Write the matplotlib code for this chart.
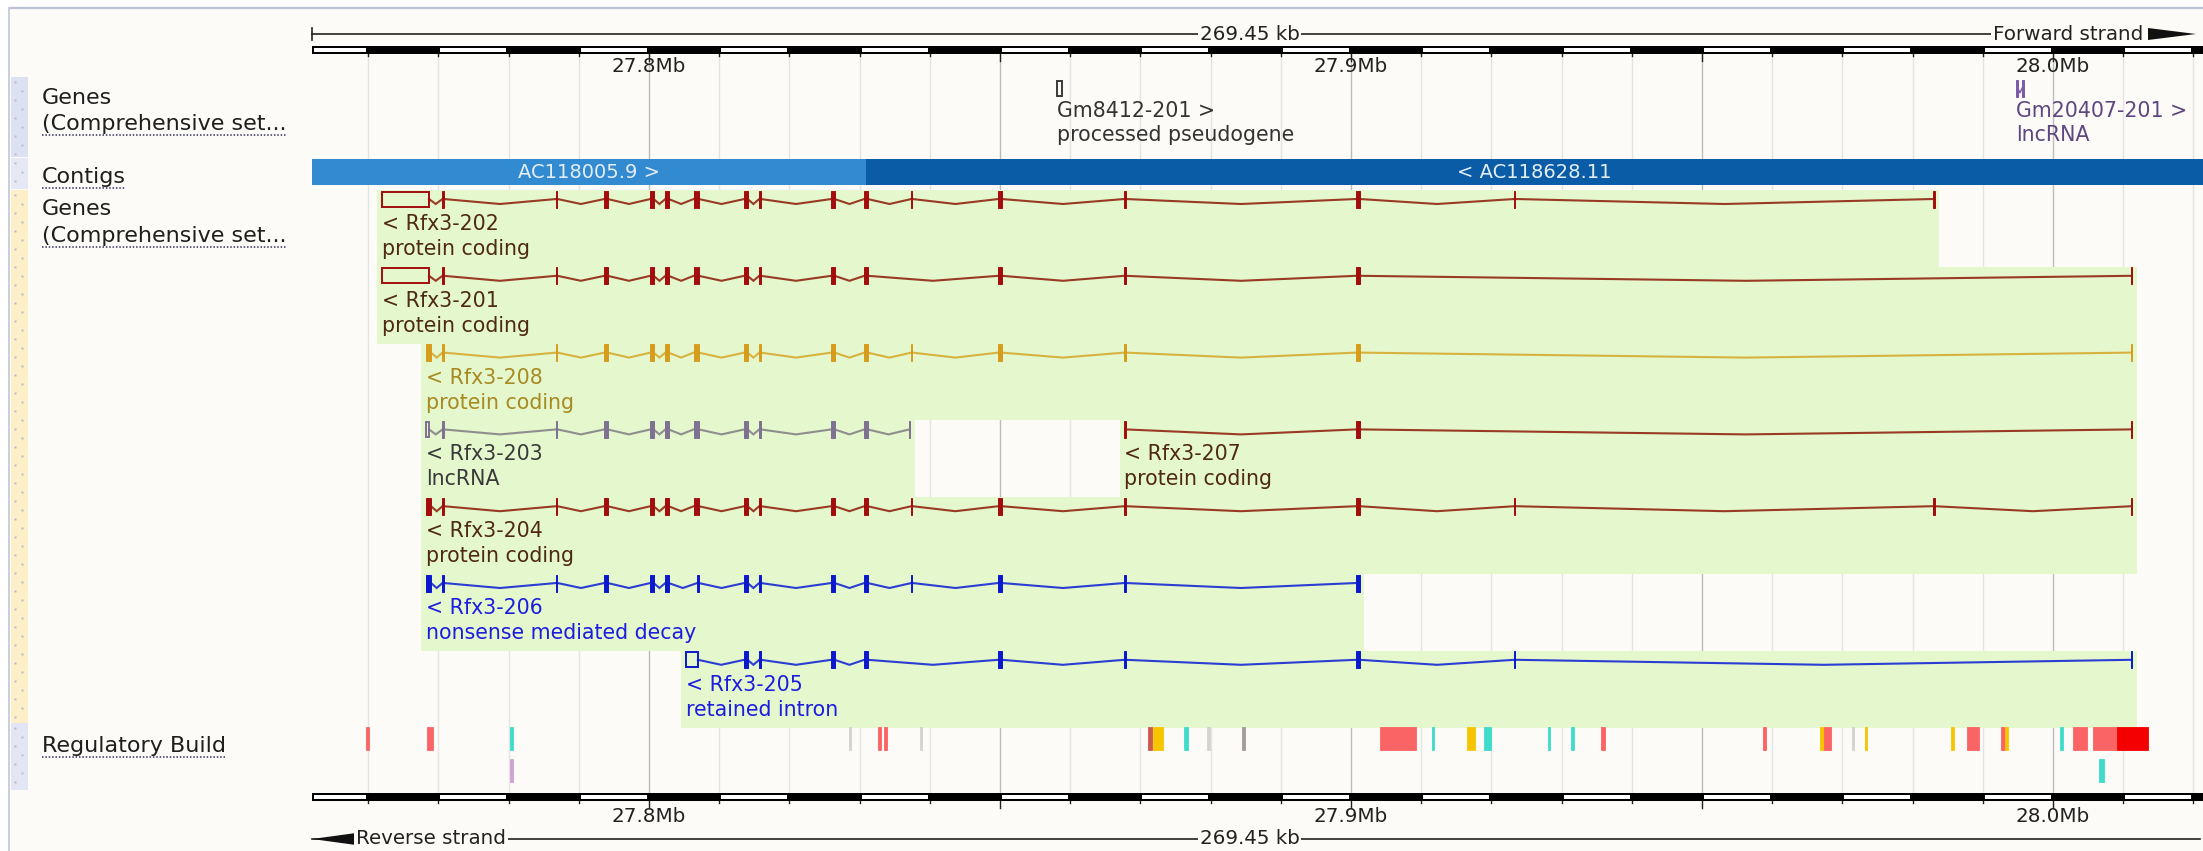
import matplotlib
matplotlib.use('Agg')
import matplotlib.pyplot as plt
from matplotlib.patches import Rectangle, Polygon
import numpy as np

plt.rcParams['font.family'] = ['DejaVu Sans']

W, H = 2203, 851

# ---------------- data ----------------
view_start = 27.7520
view_end = 28.02137
scale_label = '269.45 kb'
tick_pos = [27.8, 27.9, 28.0]
tick_labels = ['27.8Mb', '27.9Mb', '28.0Mb']

contig_names = ['AC118005.9 >', '< AC118628.11']
contig_start = [27.70, 27.8309]
contig_end = [27.8309, 28.10]

top_gene_names = ['Gm8412-201 >', 'Gm20407-201 >']
top_gene_types = ['processed pseudogene', 'lncRNA']
top_gene_exons = [[(27.85845, 0.7, 'o')],
                  [(27.99487, 0.25, 'f'), (27.99573, 0.25, 'f')]]

# exons: (centre Mb, width kb, 'f' filled / 'o' outline)
rfx3_202 = [(27.76532, 6.69, 'o'), (27.77066, 0.15, 'f'), (27.78689, 0.15, 'f'),
            (27.79387, 0.45, 'f'), (27.80043, 0.45, 'f'), (27.80256, 0.45, 'f'),
            (27.80655, 0.35, 'f'), (27.80698, 0.2, 'f'), (27.81382, 0.45, 'f'),
            (27.81581, 0.2, 'f'), (27.82621, 0.45, 'f'), (27.83091, 0.45, 'f'),
            (27.83746, 0.15, 'f'), (27.85000, 0.45, 'f'), (27.86781, 0.15, 'f'),
            (27.90100, 0.45, 'f'), (27.92336, 0.15, 'f'), (27.98305, 0.15, 'f')]
rfx3_201 = [(27.76532, 6.69, 'o'), (27.77066, 0.15, 'f'), (27.78689, 0.15, 'f'),
            (27.79387, 0.45, 'f'), (27.80043, 0.45, 'f'), (27.80256, 0.45, 'f'),
            (27.80655, 0.35, 'f'), (27.80698, 0.2, 'f'), (27.81382, 0.45, 'f'),
            (27.81581, 0.2, 'f'), (27.82621, 0.45, 'f'), (27.83091, 0.45, 'f'),
            (27.85000, 0.45, 'f'), (27.86781, 0.15, 'f'), (27.90100, 0.45, 'f'),
            (28.01125, 0.15, 'f')]
rfx3_208 = [(27.76859, 0.72, 'f'), (27.77066, 0.15, 'f'), (27.78689, 0.15, 'f'),
            (27.79387, 0.45, 'f'), (27.80043, 0.45, 'f'), (27.80256, 0.45, 'f'),
            (27.80655, 0.35, 'f'), (27.80698, 0.2, 'f'), (27.81382, 0.45, 'f'),
            (27.81581, 0.2, 'f'), (27.82621, 0.45, 'f'), (27.83091, 0.45, 'f'),
            (27.83746, 0.15, 'f'), (27.85000, 0.45, 'f'), (27.86781, 0.15, 'f'),
            (27.90100, 0.45, 'f'), (28.01125, 0.15, 'f')]
rfx3_203 = [(27.76845, 0.45, 'o'), (27.77066, 0.15, 'f'), (27.78689, 0.15, 'f'),
            (27.79387, 0.45, 'f'), (27.80043, 0.45, 'f'), (27.80256, 0.45, 'f'),
            (27.80655, 0.35, 'f'), (27.80698, 0.2, 'f'), (27.81382, 0.45, 'f'),
            (27.81581, 0.2, 'f'), (27.82621, 0.45, 'f'), (27.83091, 0.45, 'f'),
            (27.83718, 0.15, 'f')]
rfx3_207 = [(27.86781, 0.15, 'f'), (27.90100, 0.45, 'f'), (28.01125, 0.15, 'f')]
rfx3_204 = [(27.76859, 0.72, 'f'), (27.77066, 0.15, 'f'), (27.78689, 0.15, 'f'),
            (27.79387, 0.45, 'f'), (27.80043, 0.45, 'f'), (27.80256, 0.45, 'f'),
            (27.80655, 0.35, 'f'), (27.80698, 0.2, 'f'), (27.81382, 0.45, 'f'),
            (27.81581, 0.2, 'f'), (27.82621, 0.45, 'f'), (27.83091, 0.45, 'f'),
            (27.83746, 0.15, 'f'), (27.85000, 0.45, 'f'), (27.86781, 0.15, 'f'),
            (27.90100, 0.45, 'f'), (27.92336, 0.15, 'f'), (27.98305, 0.15, 'f'),
            (28.01125, 0.15, 'f')]
rfx3_206 = [(27.76859, 0.72, 'f'), (27.77066, 0.15, 'f'), (27.78689, 0.15, 'f'),
            (27.79387, 0.45, 'f'), (27.80043, 0.45, 'f'), (27.80256, 0.45, 'f'),
            (27.80698, 0.2, 'f'), (27.81382, 0.45, 'f'), (27.81581, 0.2, 'f'),
            (27.82621, 0.45, 'f'), (27.83091, 0.45, 'f'), (27.83746, 0.15, 'f'),
            (27.85000, 0.45, 'f'), (27.86781, 0.15, 'f'), (27.90100, 0.45, 'f')]
rfx3_205 = [(27.80612, 1.71, 'o'), (27.81382, 0.45, 'f'), (27.81581, 0.2, 'f'),
            (27.82621, 0.45, 'f'), (27.83091, 0.45, 'f'), (27.85000, 0.45, 'f'),
            (27.86781, 0.15, 'f'), (27.90100, 0.45, 'f'), (27.92336, 0.15, 'f'),
            (28.01125, 0.15, 'f')]

tx_names = ['< Rfx3-202', '< Rfx3-201', '< Rfx3-208', '< Rfx3-203',
            '< Rfx3-207', '< Rfx3-204', '< Rfx3-206', '< Rfx3-205']
tx_types = ['protein coding', 'protein coding', 'protein coding', 'lncRNA',
            'protein coding', 'protein coding', 'nonsense mediated decay', 'retained intron']
tx_rows = [0, 1, 2, 3, 3, 4, 5, 6]
tx_class = ['pc', 'pc', 'gold', 'lnc', 'pc', 'pc', 'nmd', 'nmd']
tx_exons = [rfx3_202, rfx3_201, rfx3_208, rfx3_203, rfx3_207, rfx3_204, rfx3_206, rfx3_205]

# regulatory build features
reg_start = [27.75969, 27.76838, 27.78020, 27.78020, 27.82849, 27.83262, 27.83348,
             27.83860, 27.87108, 27.87179, 27.87621, 27.87949, 27.88447, 27.90413,
             27.91154, 27.91652, 27.91895, 27.92806, 27.93134, 27.93561, 27.95869,
             27.96681, 27.96738, 27.97137, 27.97322, 27.98547, 27.98775, 27.99259,
             27.99316, 28.00100, 28.00285, 28.00570, 28.00912, 28.00655]
reg_end = [27.76011, 27.76923, 27.78063, 27.78063, 27.82877, 27.83305, 27.83390,
           27.83889, 27.87165, 27.87322, 27.87678, 27.87991, 27.88490, 27.90926,
           27.91182, 27.91766, 27.91994, 27.92835, 27.93177, 27.93618, 27.95912,
           27.96738, 27.96838, 27.97165, 27.97350, 27.98590, 27.98946, 27.99316,
           27.99359, 28.00142, 28.00484, 28.00912, 28.01353, 28.00726]
reg_type = ['flank', 'flank', 'ctcf', 'tf', 'open', 'flank', 'flank',
            'open', 'mixed', 'enhancer', 'ctcf', 'open', 'grey', 'flank',
            'ctcf', 'enhancer', 'ctcf', 'ctcf', 'ctcf', 'flank', 'flank',
            'enhancer', 'flank', 'open', 'enhancer', 'enhancer', 'flank', 'flank',
            'enhancer', 'ctcf', 'flank', 'flank', 'promoter', 'ctcf']
reg_row = [0, 0, 0, 1, 0, 0, 0, 0, 0, 0, 0, 0, 0, 0, 0, 0, 0, 0, 0, 0, 0,
           0, 0, 0, 0, 0, 0, 0, 0, 0, 0, 0, 0, 1]

# ---------------- styles ----------------
BG = '#fcfbf7'
GREEN = '#e5f7cd'
cls_exon = {'pc': '#a30d0d', 'gold': '#d79c1c', 'lnc': '#7e7191', 'nmd': '#0c18cc'}
cls_intron = {'pc': '#983a24', 'gold': '#d8b23e', 'lnc': '#8e8e8e', 'nmd': '#2b3dd2'}
cls_label = {'pc': '#4e2a12', 'gold': '#a88a22', 'lnc': '#3a3a3a', 'nmd': '#1d1de0'}
reg_colors = {'promoter': '#f40000', 'flank': '#fb6464', 'enhancer': '#f6c500',
              'ctcf': '#3fdccc', 'tf': '#d3a0d3', 'open': '#d3d3d3',
              'grey': '#a39c9c', 'mixed': '#c95b48'}

FS = 14.8      # track labels
FS_LEFT = 16.0
FS_TICK = 14.3
row_y0, row_pitch = 199.0, 76.8
exon_h, dip = 17.0, 5.0

fig = plt.figure(figsize=(W / 100, H / 100), dpi=100)
fig.patch.set_facecolor('white')

# background axes in pixel coordinates
axb = fig.add_axes([0, 0, 1, 1])
axb.set_xlim(0, W)
axb.set_ylim(H, 0)
axb.axis('off')

axb.add_patch(Rectangle((9, 8), W - 9, H - 8, facecolor=BG, edgecolor='none', zorder=0))
axb.plot([9, W], [8, 8], color='#bcc2d4', lw=1.6, zorder=1)
axb.plot([9, 9], [8, H], color='#c9cedc', lw=1.4, zorder=1)

# left colour strips
strips = [(77, 157, '#dde2f2'), (158, 189, '#e6e9f5'), (190, 723, '#fdf0c9'), (723, 790, '#e2e5f3')]
for y0, y1, c in strips:
    axb.add_patch(Rectangle((11, y0), 17, y1 - y0, facecolor=c, edgecolor='none', zorder=1))
    ys = np.arange(y0 + 5, y1 - 2, 9)
    for i, yy in enumerate(ys):
        xx = 15 if i % 2 == 0 else 22
        axb.plot([xx], [yy], marker='s', ms=1.6, color='#b9bccb', mec='none', zorder=2)

left_labels = [('Genes', 98, False), ('(Comprehensive set...', 124, True),
               ('Contigs', 177, True), ('Genes', 209, False),
               ('(Comprehensive set...', 236, True), ('Regulatory Build', 746, True)]
ul_texts = []
for txt, y, ul in left_labels:
    t = axb.text(42, y, txt, fontsize=FS_LEFT, color='#1e1e1e', va='center', ha='left', zorder=3)
    if ul:
        ul_texts.append(t)

# main track axes
x0px = 312
ax = fig.add_axes([x0px / W, 0, (W - x0px) / W, 1])
ax.set_xlim(view_start, view_end)
ax.set_ylim(H, 0)
ax.axis('off')
ax.patch.set_alpha(0)

# grid lines every 10 kb
grid = np.round(np.arange(27.76, view_end, 0.01), 3)
for g in grid:
    major = abs(g * 20 - round(g * 20)) < 1e-6
    ax.plot([g, g], [53, 794], color='#bdbdbd' if major else '#e4e4e4',
            lw=1.0, zorder=1)

def scale_bar(ybar, label_y):
    ax.add_patch(Rectangle((view_start, ybar), view_end - view_start, 8,
                           facecolor='black', edgecolor='none', zorder=6))
    edges = [view_start] + list(grid) + [view_end]
    for a, b in zip(edges[:-1], edges[1:]):
        if a < 27.76 or int(round((a - 27.76) * 100)) % 2 == 1:
            ax.add_patch(Rectangle((a + 0.0003, ybar + 1.8), b - a - 0.0006, 4.4,
                                   facecolor='white', edgecolor='none', zorder=7))
    for g in grid:
        major = abs(g * 20 - round(g * 20)) < 1e-6
        ln = 7 if major else 2
        ax.plot([g, g], [ybar + 8, ybar + 8 + ln], color='#222', lw=1.0, zorder=7)
    for p, lab in zip(tick_pos, tick_labels):
        ax.text(p, label_y, lab, fontsize=FS_TICK, ha='center', va='center', color='#222', zorder=8)

scale_bar(46, 66)
scale_bar(793, 817)

# top strand line
axb.plot([x0px, 2143], [34, 34], color='#222', lw=1.2, zorder=5)
axb.plot([x0px, x0px], [28, 40], color='#222', lw=1.2, zorder=5)
axb.text((x0px + W) / 2 - 8, 34, scale_label, fontsize=FS_TICK, ha='center', va='center', color='#222',
         bbox=dict(facecolor=BG, edgecolor='none', pad=1.5), zorder=6)
axb.text(2143, 34, 'Forward strand', fontsize=FS_TICK, ha='right', va='center', color='#222',
         bbox=dict(facecolor=BG, edgecolor='none', pad=1.5), zorder=6)
axb.add_patch(Polygon([(2148, 28), (2196, 34), (2148, 40)], closed=True,
                      facecolor='#111', edgecolor='none', zorder=6))
# bottom strand line
axb.plot([x0px, W - 3], [839, 839], color='#222', lw=1.2, zorder=5)
axb.add_patch(Polygon([(x0px, 839), (356, 833), (356, 845)], closed=True,
                      facecolor='#111', edgecolor='none', zorder=6))
axb.text(356, 839, 'Reverse strand', fontsize=FS_TICK, ha='left', va='center', color='#222',
         bbox=dict(facecolor=BG, edgecolor='none', pad=1.5), zorder=6)
axb.text((x0px + W) / 2 - 8, 839, scale_label, fontsize=FS_TICK, ha='center', va='center', color='#222',
         bbox=dict(facecolor=BG, edgecolor='none', pad=1.5), zorder=6)

# contigs
contig_colors = ['#328bd1', '#0b5ca6']
for name, s, e, c in zip(contig_names, contig_start, contig_end, contig_colors):
    ax.add_patch(Rectangle((s, 159), e - s, 26, facecolor=c, edgecolor='none', zorder=3))
    vs, ve = max(s, view_start), min(e, view_end)
    ax.text((vs + ve) / 2, 172, name, fontsize=14, ha='center', va='center',
            color='#e4eef8', zorder=4)

def draw_transcript(exons, y, ecol, icol, lw_int=1.5):
    spans = [(c - w / 2000.0, c + w / 2000.0, k) for c, w, k in exons]
    for (s0, e0, _), (s1, e1, _) in zip(spans[:-1], spans[1:]):
        mid = (e0 + s1) / 2
        ax.plot([e0, mid, s1], [y, y + dip, y], color=icol, lw=lw_int, zorder=4,
                solid_joinstyle='miter')
    for s, e, k in spans:
        if k == 'o':
            ax.add_patch(Rectangle((s, y - exon_h / 2 + 1), e - s, exon_h - 2, facecolor='none',
                                   edgecolor=ecol, lw=1.4, zorder=5))
        else:
            ax.add_patch(Rectangle((s, y - exon_h / 2), e - s, exon_h, facecolor=ecol,
                                   edgecolor=ecol, lw=0.7, zorder=5))

# top gene track
top_gene_colors = [('#3a3a3a', '#3a3a3a', '#333333'), ('#7d5aa8', '#7d5aa8', '#5e4680')]
for ex, nm, tp, (ec, ic, lc) in zip(top_gene_exons, top_gene_names, top_gene_types, top_gene_colors):
    draw_transcript(ex, 88, ec, ic, lw_int=1.0)
    x_left = ex[0][0] - ex[0][1] / 2000.0
    ax.text(x_left, 111, nm, fontsize=FS, color=lc, ha='left', va='center', zorder=6)
    ax.text(x_left, 135, tp, fontsize=FS, color=lc, ha='left', va='center', zorder=6)

# transcripts
pad = 0.0007
for name, tp, row, cls, ex in zip(tx_names, tx_types, tx_rows, tx_class, tx_exons):
    y = row_y0 + row * row_pitch
    s = ex[0][0] - ex[0][1] / 2000.0
    e = ex[-1][0] + ex[-1][1] / 2000.0
    ax.add_patch(Rectangle((s - pad, y - 9), e - s + 2 * pad, row_pitch,
                           facecolor=GREEN, edgecolor='none', zorder=2))
    draw_transcript(ex, y, cls_exon[cls], cls_intron[cls])
    ax.text(s, y + 25, name, fontsize=FS, color=cls_label[cls], ha='left', va='center', zorder=6)
    ax.text(s, y + 50, tp, fontsize=FS, color=cls_label[cls], ha='left', va='center', zorder=6)

# regulatory build
reg_y = [727, 759]
for s, e, t, r in zip(reg_start, reg_end, reg_type, reg_row):
    ax.add_patch(Rectangle((s, reg_y[r]), e - s, 23, facecolor=reg_colors[t],
                           edgecolor=reg_colors[t], lw=0.6, zorder=5))

# dotted underlines for left labels
fig.canvas.draw()
rend = fig.canvas.get_renderer()
for t in ul_texts:
    bb = t.get_window_extent(rend)
    yy = H - bb.y0 + 1
    axb.plot([bb.x0, bb.x1], [yy, yy], color='#30305a', lw=1.1, ls=(0, (1, 1.2)), zorder=3)

fig.savefig('out.png', dpi=100, facecolor='white')
